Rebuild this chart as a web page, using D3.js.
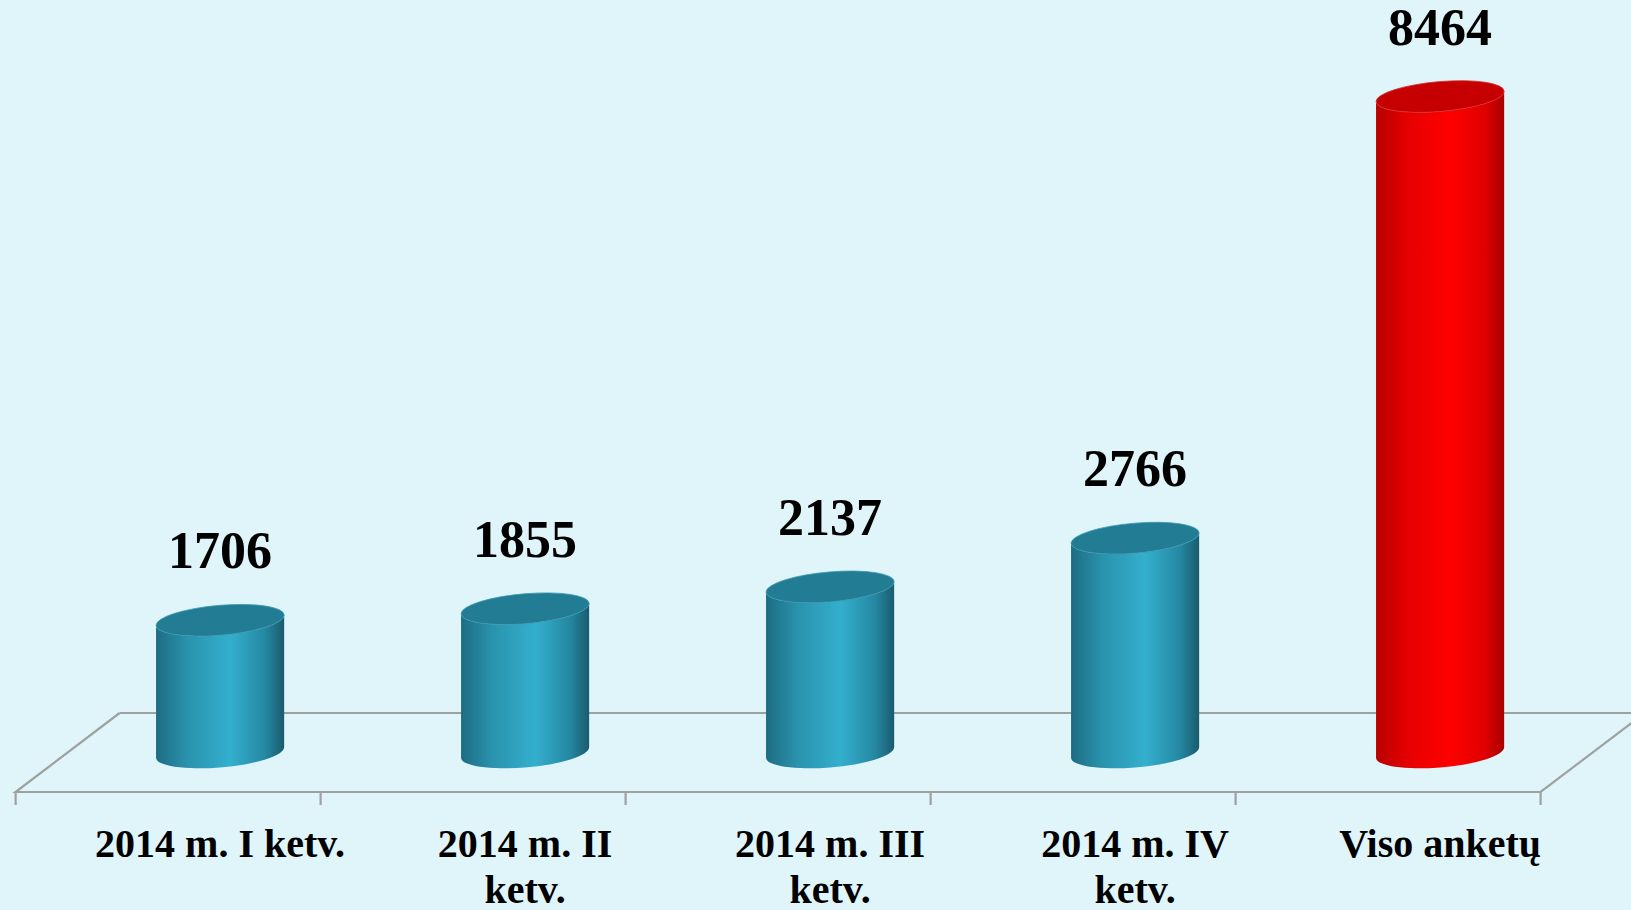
<!DOCTYPE html>
<html lang="lt">
<head>
  <meta charset="UTF-8">
  <title>Anketos 2014</title>
  <script src="https://d3js.org/d3.v7.min.js"></script>
  <style>
    html, body { margin: 0; padding: 0; background: #dff5fa; overflow: hidden; }
    text { font-family: "Liberation Serif", "Times New Roman", serif; font-weight: bold; fill: #000; }
  </style>
</head>
<body>
  <div id="chart"></div>
  <script>
    // chart data
    const categories = ["2014 m. I ketv.", "2014 m. II ketv.", "2014 m. III ketv.", "2014 m. IV ketv.", "Viso anketų"];
    const values = [1706, 1855, 2137, 2766, 8464];
    const isTotal = [false, false, false, false, true];

    const width = 1631, height = 910;

    const svg = d3.select("#chart").append("svg")
      .attr("width", width)
      .attr("height", height);

    // gradients for the cylinder sides
    const defs = svg.append("defs");
    function sideGradient(id, stops) {
      const g = defs.append("linearGradient").attr("id", id)
        .attr("x1", 0).attr("x2", 1).attr("y1", 0).attr("y2", 0);
      stops.forEach(s => g.append("stop").attr("offset", s[0]).attr("stop-color", s[1]));
    }
    sideGradient("teal", [[0, "#1d6d83"], [0.25, "#2a93ae"], [0.58, "#33afce"], [0.85, "#2588a2"], [1, "#1a5b6e"]]);
    sideGradient("red", [[0, "#b80000"], [0.25, "#e60000"], [0.58, "#ff0000"], [0.85, "#e00000"], [1, "#a80000"]]);

    // floor / perspective geometry
    const frontY = 792;
    const depthX = 104, depthY = 79;
    const baseY = frontY - depthY / 2;

    const x = d3.scaleBand()
      .domain(categories)
      .range([15.6, 1540.6])
      .padding(0);

    const y = d3.scaleLinear()
      .domain([0, 9000])
      .range([baseY, baseY - 697.5]);

    const floor = svg.append("g")
      .attr("fill", "none")
      .attr("stroke", "#a0a0a0")
      .attr("stroke-width", 2.2);

    const x0 = x.range()[0], x1 = x.range()[1];
    // back edge of the floor
    floor.append("path").attr("d", `M${x0 + depthX},${frontY - depthY}H${x1 + depthX}`);
    // sides and front edge
    floor.append("path").attr("d",
      `M${x0 + depthX},${frontY - depthY}L${x0},${frontY}H${x1}L${x1 + depthX},${frontY - depthY}`);
    // ticks at band boundaries
    const tickPos = categories.map(c => x(c)).concat([x1]);
    floor.selectAll("line.tick").data(tickPos).join("line")
      .attr("class", "tick")
      .attr("x1", d => d).attr("x2", d => d)
      .attr("y1", frontY).attr("y2", frontY + 13);

    // cylinders
    const barW = x.bandwidth() * 0.42;
    const a = barW / 2, b = 15;
    const skew = -4.6; // degrees, ellipse tilt

    const bars = svg.append("g").selectAll("g.bar")
      .data(categories.map((c, i) => ({ c, v: values[i], total: isTotal[i] })))
      .join("g")
      .attr("class", "bar")
      .each(function (d) {
        const cx = x(d.c) + x.bandwidth() / 2 + depthX / 2;
        const top = y(d.v);
        const g = d3.select(this).append("g")
          .attr("transform", `translate(${cx},0) skewY(${skew})`);
        g.append("path")
          .attr("d", `M${-a},${top}V${baseY}A${a},${b} 0 0 0 ${a},${baseY}V${top}A${a},${b} 0 0 1 ${-a},${top}Z`)
          .attr("fill", d.total ? "url(#red)" : "url(#teal)");
        g.append("ellipse")
          .attr("cx", 0).attr("cy", top)
          .attr("rx", a).attr("ry", b)
          .attr("fill", d.total ? "#c60000" : "#227d94")
          .attr("stroke", d.total ? "#d83030" : "#3a98b0")
          .attr("stroke-width", 0.8);

        // value label
        d3.select(this).append("text")
          .attr("x", cx)
          .attr("y", top - 52)
          .attr("text-anchor", "middle")
          .attr("font-size", 52)
          .text(d3.format("d")(d.v));
      });

    // category labels, wrapped to the band width
    const labels = svg.append("g").selectAll("text.cat")
      .data(categories)
      .join("text")
      .attr("class", "cat")
      .attr("font-size", 40)
      .attr("text-anchor", "middle")
      .attr("y", 857)
      .each(function (c) {
        const t = d3.select(this);
        const cx = x(c) + x.bandwidth() / 2 + depthX / 2;
        const words = c.split(" ");
        let line = [], lineNo = 0;
        let tspan = t.append("tspan").attr("x", cx).attr("dy", 0);
        words.forEach(w => {
          line.push(w);
          tspan.text(line.join(" "));
          if (tspan.node().getComputedTextLength() > 265 && line.length > 1) {
            line.pop();
            tspan.text(line.join(" "));
            line = [w];
            lineNo++;
            tspan = t.append("tspan").attr("x", cx).attr("dy", 46).text(w);
          }
        });
      });
  </script>
</body>
</html>
